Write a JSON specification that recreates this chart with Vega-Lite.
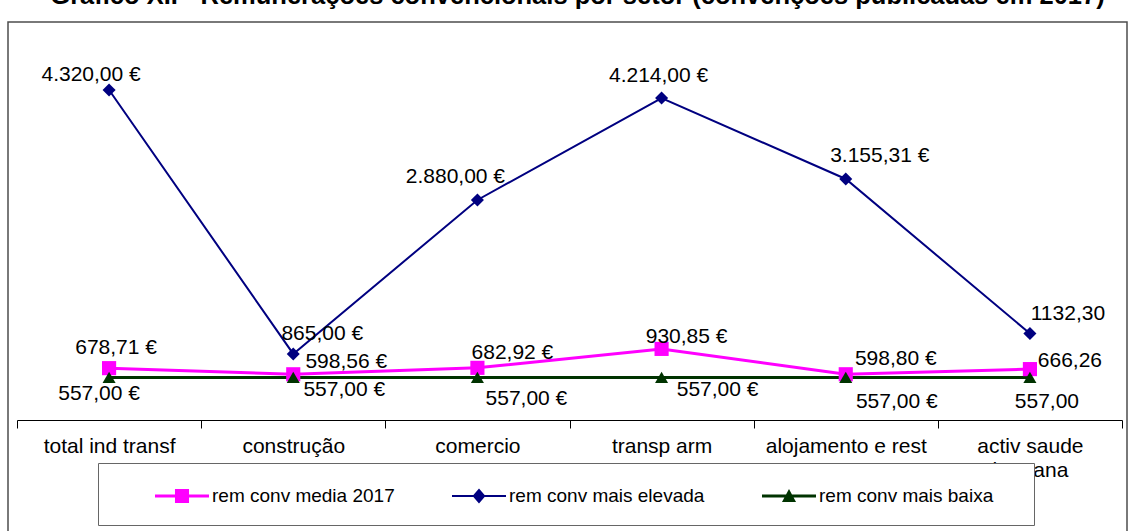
{
  "$schema": "https://vega.github.io/schema/vega-lite/v6.json",
  "width": 1119,
  "height": 511,
  "autosize": {"type": "none"},
  "padding": {"left": 8, "top": 22, "right": 5, "bottom": -2},
  "background": "white",
  "title": {
    "text": "Gráfico XII - Remunerações convencionais por setor (convenções publicadas em 2017)",
    "font": "Liberation Sans",
    "fontSize": 25.5,
    "fontWeight": "bold",
    "color": "black",
    "anchor": "middle",
    "offset": 13,
    "dx": 10
  },
  "config": {
    "view": {"stroke": "#4d4d4d", "strokeWidth": 1.5},
    "font": "Liberation Sans",
    "text": {"font": "Liberation Sans", "fontSize": 21, "color": "black", "align": "center", "baseline": "middle"}
  },
  "data": {
    "values": [
      {"sector": "total ind transf", "series": "rem conv media 2017", "value": 678.71, "label": "678,71 €"},
      {"sector": "construção", "series": "rem conv media 2017", "value": 598.56, "label": "598,56 €"},
      {"sector": "comercio", "series": "rem conv media 2017", "value": 682.92, "label": "682,92 €"},
      {"sector": "transp arm", "series": "rem conv media 2017", "value": 930.85, "label": "930,85 €"},
      {"sector": "alojamento e rest", "series": "rem conv media 2017", "value": 598.80, "label": "598,80 €"},
      {"sector": "activ saude humana", "series": "rem conv media 2017", "value": 666.26, "label": "666,26"},
      {"sector": "total ind transf", "series": "rem conv mais elevada", "value": 4320.00, "label": "4.320,00 €"},
      {"sector": "construção", "series": "rem conv mais elevada", "value": 865.00, "label": "865,00 €"},
      {"sector": "comercio", "series": "rem conv mais elevada", "value": 2880.00, "label": "2.880,00 €"},
      {"sector": "transp arm", "series": "rem conv mais elevada", "value": 4214.00, "label": "4.214,00 €"},
      {"sector": "alojamento e rest", "series": "rem conv mais elevada", "value": 3155.31, "label": "3.155,31 €"},
      {"sector": "activ saude humana", "series": "rem conv mais elevada", "value": 1132.30, "label": "1132,30"},
      {"sector": "total ind transf", "series": "rem conv mais baixa", "value": 557.00, "label": "557,00 €"},
      {"sector": "construção", "series": "rem conv mais baixa", "value": 557.00, "label": "557,00 €"},
      {"sector": "comercio", "series": "rem conv mais baixa", "value": 557.00, "label": "557,00 €"},
      {"sector": "transp arm", "series": "rem conv mais baixa", "value": 557.00, "label": "557,00 €"},
      {"sector": "alojamento e rest", "series": "rem conv mais baixa", "value": 557.00, "label": "557,00 €"},
      {"sector": "activ saude humana", "series": "rem conv mais baixa", "value": 557.00, "label": "557,00"}
    ]
  },
  "encoding": {
    "x": {
      "field": "sector",
      "type": "nominal",
      "sort": null,
      "scale": {"type": "band", "range": [9, 1114], "paddingInner": 0, "paddingOuter": 0},
      "axis": {
        "title": null,
        "orient": "bottom",
        "offset": -113,
        "domainColor": "black",
        "domainWidth": 1,
        "tickColor": "black",
        "tickSize": 8,
        "tickWidth": 1,
        "tickBand": "extent",
        "labelFont": "Liberation Sans",
        "labelFontSize": 21,
        "labelColor": "black",
        "labelPadding": 7,
        "labelAngle": 0,
        "labelLineHeight": 24,
        "labelLimit": 0,
        "labelExpr": "datum.value == 'activ saude humana' ? ['activ saude', 'humana'] : datum.label",
        "grid": false
      }
    },
    "y": {
      "field": "value",
      "type": "quantitative",
      "scale": {"domain": [0, 4320], "range": [398, 68]},
      "axis": null
    }
  },
  "layer": [
    {
      "mark": {"type": "line"},
      "encoding": {
        "color": {"field": "series", "type": "nominal", "scale": {"domain": ["rem conv media 2017", "rem conv mais elevada", "rem conv mais baixa"], "range": ["#FF00FF", "#000080", "#003300"]}, "legend": null},
        "strokeWidth": {"field": "series", "type": "nominal", "scale": {"type": "ordinal", "domain": ["rem conv media 2017", "rem conv mais elevada", "rem conv mais baixa"], "range": [3, 2, 3]}, "legend": null}
      }
    },
    {
      "mark": {"type": "point", "filled": true, "opacity": 1},
      "encoding": {
        "color": {"field": "series", "type": "nominal", "scale": {"domain": ["rem conv media 2017", "rem conv mais elevada", "rem conv mais baixa"], "range": ["#FF00FF", "#000080", "#003300"]}, "legend": null},
        "shape": {"field": "series", "type": "nominal", "scale": {"domain": ["rem conv media 2017", "rem conv mais elevada", "rem conv mais baixa"], "range": ["square", "diamond", "triangle-up"]}, "legend": null},
        "size": {"field": "series", "type": "nominal", "scale": {"type": "ordinal", "domain": ["rem conv media 2017", "rem conv mais elevada", "rem conv mais baixa"], "range": [200, 170, 170]}, "legend": null}
      }
    },
    {
      "transform": [{"filter": "false"}],
      "mark": {"type": "point", "filled": true, "opacity": 1},
      "encoding": {
        "color": {"field": "series", "type": "nominal", "scale": {"domain": ["rem conv media 2017", "rem conv mais elevada", "rem conv mais baixa"], "range": ["#FF00FF", "#000080", "#003300"]},
          "legend": {
            "orient": "none", "legendX": 90, "legendY": 441, "direction": "horizontal", "columns": 3,
            "title": " ", "titleOrient": "right", "titlePadding": 35, "titleFontSize": 62, "titleLineHeight": 62,
            "symbolSize": 2916, "symbolStrokeWidth": 0, "symbolOpacity": 1, "symbolOffset": 51,
            "labelFont": "Liberation Sans", "labelFontSize": 19, "labelColor": "black", "labelOffset": 3, "labelLimit": 0,
            "columnPadding": 6, "padding": 6, "fillColor": "white", "strokeColor": "#666666"
          }
        },
        "shape": {"field": "series", "type": "nominal", "scale": {"domain": ["rem conv media 2017", "rem conv mais elevada", "rem conv mais baixa"], "range": [
          "M-1,-0.055H1V0.055H-1Z M-0.26,-0.26H0.26V0.26H-0.26Z",
          "M-1,-0.04H1V0.04H-1Z M0,-0.28L0.24,0L0,0.28L-0.24,0Z",
          "M-1,-0.055H1V0.055H-1Z M0,-0.26L0.26,0.22H-0.26Z"
        ]}}
      }
    },
    {"transform": [{"filter": "datum.series == 'rem conv media 2017' && datum.sector == 'total ind transf'"}], "mark": {"type": "text", "dx": 7, "dy": -20}, "encoding": {"text": {"field": "label"}}},
    {"transform": [{"filter": "datum.series == 'rem conv media 2017' && datum.sector == 'construção'"}], "mark": {"type": "text", "dx": 53, "dy": -12}, "encoding": {"text": {"field": "label"}}},
    {"transform": [{"filter": "datum.series == 'rem conv media 2017' && datum.sector == 'comercio'"}], "mark": {"type": "text", "dx": 35, "dy": -15}, "encoding": {"text": {"field": "label"}}},
    {"transform": [{"filter": "datum.series == 'rem conv media 2017' && datum.sector == 'transp arm'"}], "mark": {"type": "text", "dx": 25, "dy": -12}, "encoding": {"text": {"field": "label"}}},
    {"transform": [{"filter": "datum.series == 'rem conv media 2017' && datum.sector == 'alojamento e rest'"}], "mark": {"type": "text", "dx": 50, "dy": -15}, "encoding": {"text": {"field": "label"}}},
    {"transform": [{"filter": "datum.series == 'rem conv media 2017' && datum.sector == 'activ saude humana'"}], "mark": {"type": "text", "dx": 40, "dy": -8}, "encoding": {"text": {"field": "label"}}},
    {"transform": [{"filter": "datum.series == 'rem conv mais elevada' && datum.sector == 'total ind transf'"}], "mark": {"type": "text", "dx": -18, "dy": -15}, "encoding": {"text": {"field": "label"}}},
    {"transform": [{"filter": "datum.series == 'rem conv mais elevada' && datum.sector == 'construção'"}], "mark": {"type": "text", "dx": 29, "dy": -20}, "encoding": {"text": {"field": "label"}}},
    {"transform": [{"filter": "datum.series == 'rem conv mais elevada' && datum.sector == 'comercio'"}], "mark": {"type": "text", "dx": -22, "dy": -23}, "encoding": {"text": {"field": "label"}}},
    {"transform": [{"filter": "datum.series == 'rem conv mais elevada' && datum.sector == 'transp arm'"}], "mark": {"type": "text", "dx": -3, "dy": -22}, "encoding": {"text": {"field": "label"}}},
    {"transform": [{"filter": "datum.series == 'rem conv mais elevada' && datum.sector == 'alojamento e rest'"}], "mark": {"type": "text", "dx": 34, "dy": -23}, "encoding": {"text": {"field": "label"}}},
    {"transform": [{"filter": "datum.series == 'rem conv mais elevada' && datum.sector == 'activ saude humana'"}], "mark": {"type": "text", "dx": 38, "dy": -20}, "encoding": {"text": {"field": "label"}}},
    {"transform": [{"filter": "datum.series == 'rem conv mais baixa' && datum.sector == 'total ind transf'"}], "mark": {"type": "text", "dx": -10, "dy": 17}, "encoding": {"text": {"field": "label"}}},
    {"transform": [{"filter": "datum.series == 'rem conv mais baixa' && datum.sector == 'construção'"}], "mark": {"type": "text", "dx": 51, "dy": 13}, "encoding": {"text": {"field": "label"}}},
    {"transform": [{"filter": "datum.series == 'rem conv mais baixa' && datum.sector == 'comercio'"}], "mark": {"type": "text", "dx": 49, "dy": 22}, "encoding": {"text": {"field": "label"}}},
    {"transform": [{"filter": "datum.series == 'rem conv mais baixa' && datum.sector == 'transp arm'"}], "mark": {"type": "text", "dx": 56, "dy": 13}, "encoding": {"text": {"field": "label"}}},
    {"transform": [{"filter": "datum.series == 'rem conv mais baixa' && datum.sector == 'alojamento e rest'"}], "mark": {"type": "text", "dx": 51, "dy": 25}, "encoding": {"text": {"field": "label"}}},
    {"transform": [{"filter": "datum.series == 'rem conv mais baixa' && datum.sector == 'activ saude humana'"}], "mark": {"type": "text", "dx": 17, "dy": 25}, "encoding": {"text": {"field": "label"}}}
  ],
  "resolve": {"scale": {"shape": "independent", "color": "independent", "size": "independent"}}
}
